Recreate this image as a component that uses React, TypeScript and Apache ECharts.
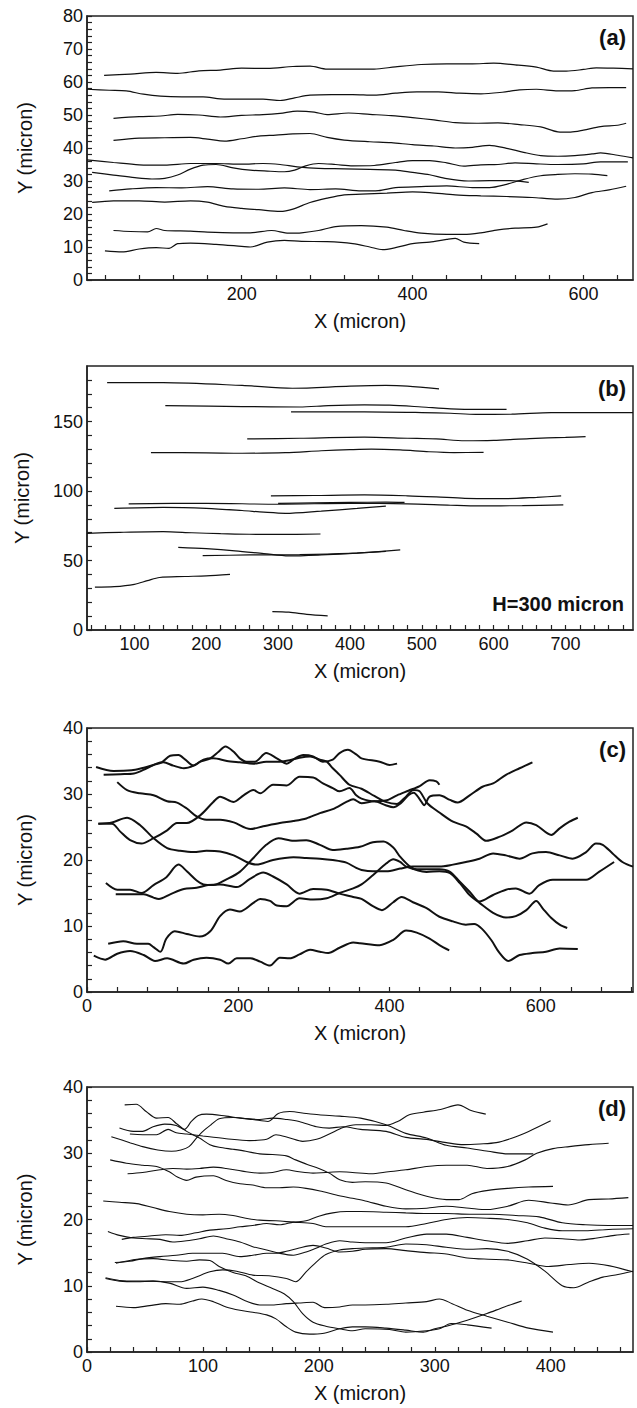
import React, { useEffect, useRef } from 'react';
import * as echarts from 'echarts';

// ---------- Panel (a) ----------
const a1 = [[39,62],[70,62.4],[100,62.9],[125,62.6],[150,63.4],[175,63.6],[200,64.2],[230,64.1],[260,64.7],[280,64.8],[300,63.9],[330,63.9],[355,63.9],[380,64.6],[410,65.3],[440,65.5],[470,65.5],[495,65.7],[520,65.2],[545,64.5],[565,63.3],[580,63.3],[600,63.8],[615,64.3],[635,64.2],[658,64]];
const a2 = [[19,57.8],[45,57.5],[65,57.3],[85,56.3],[105,55.7],[130,55.5],[155,55.5],[175,54.9],[200,54.8],[225,54.8],[245,54.4],[262,55.2],[280,56],[305,56.2],[330,56.2],[355,56],[380,56.6],[405,57],[430,57],[455,56.6],[480,56.4],[505,56.9],[525,57.6],[545,57.8],[570,57.3],[590,57.4],[610,58.2],[630,58.3],[650,58.3]];
const a3 = [[50,49],[80,49.5],[105,49.7],[125,50.2],[150,50],[175,49.4],[200,49.9],[225,50.1],[245,50.5],[265,51.2],[285,50.9],[300,50.1],[325,50.6],[350,50.2],[375,49.8],[400,49.2],[425,48.5],[450,47.7],[475,47.5],[500,47.6],[525,47.1],[550,46.4],[570,44.9],[585,44.8],[600,45.4],[620,46.5],[640,46.9],[650,47.5]];
const a4 = [[50,42.3],[80,43],[110,43.1],[140,43.2],[160,42.7],[180,42.1],[200,42.8],[220,43.6],[240,43.9],[260,44.3],[280,44.4],[300,43.2],[320,42.4],[350,41.9],[375,41.6],[400,41],[425,40.6],[450,40],[470,40.2],[490,40.8],[510,39.9],[530,38.7],[550,37.7],[570,37.5],[590,37.7],[610,38.2],[620,38.5],[640,37.8],[658,37]];
const a5 = [[19,36.4],[50,35.6],[80,34.9],[110,34.8],[140,35.3],[170,35.3],[200,35.1],[225,35.3],[245,35],[265,34.3],[290,33.8],[320,33.7],[350,33.5],[380,33.3],[400,32.6],[420,31.9],[440,30.7],[465,30],[490,30.1],[515,30.1],[536,29.6]];
const a6 = [[25,32.6],[50,31.8],[75,31],[95,30.6],[110,30.8],[125,31.8],[140,33.6],[155,34.8],[170,35],[190,34],[210,33.3],[230,33],[250,32.8],[262,33.3],[275,34.6],[290,35.3],[310,35],[330,34.6],[355,34.7],[380,35.6],[400,36.2],[420,36.2],[440,35.5],[460,34.5],[480,34.9],[500,35],[520,35.5],[545,35.2],[570,35],[600,35.2],[620,35.8],[652,35.8]];
const a7 = [[45,27],[70,27.6],[100,28],[130,27.9],[160,28.3],[190,27.6],[220,27.5],[250,27.9],[280,27.4],[310,27.6],[340,27],[360,27.1],[380,28],[410,28.3],[440,28.5],[470,28],[490,28],[510,29],[530,30.5],[550,31.6],[570,32],[590,32.2],[610,32.1],[628,31.6]];
const a8 = [[25,23.5],[50,24],[80,24],[110,23.6],[140,24],[160,23.6],[180,22.3],[200,21.7],[220,21.3],[245,20.8],[260,21.5],[280,23.5],[300,24.8],[320,25.8],[340,26],[370,26.3],[400,26.7],[420,26.5],[450,25.8],[480,25.5],[510,25.3],[540,25],[570,24.5],[590,25],[610,26.5],[630,27.3],[650,28.4]];
const a9 = [[50,15],[70,14.7],[90,14.6],[100,15.6],[110,15],[140,14.8],[160,14.5],[190,14.3],[210,14.3],[235,15],[255,14.2],[270,14.3],[290,15],[310,16.2],[340,16.5],[370,16],[390,15],[410,14.2],[440,13.8],[460,13.8],[480,14.3],[500,15.2],[520,15.7],[545,16],[558,17]];
const a10 = [[40,8.8],[60,8.5],[80,9.4],[100,9.8],[115,9.6],[125,11],[140,11.2],[170,10.8],[200,10.2],[210,10],[230,11.5],[250,12],[270,11.7],[300,11.6],[330,11],[350,10],[365,9.2],[380,9.8],[400,11],[420,11.5],[440,12.3],[450,12.6],[460,11.5],[478,11]];

// ---------- Panel (b) ----------
const b1 = [[62,178],[140,178],[250,176],[320,174],[400,175.5],[450,176],[480,175.5],[524,173.5]];
const b2 = [[143,161.5],[250,160.8],[330,160.5],[370,161.5],[420,162],[455,161.8],[500,160.5],[540,159.2],[580,158.8],[618,158.8]];
const b3 = [[318,157],[420,157],[500,156.5],[540,156],[575,155.2],[625,155.3],[680,156.5],[794,156.5]];
const b4 = [[257,137.5],[330,138],[420,138.8],[480,138],[520,137.5],[560,136.2],[600,136.5],[650,137.8],[700,138.6],[728,139.2]];
const b5 = [[123,127.7],[200,127.5],[250,127.2],[310,127.6],[360,129],[400,129.8],[430,130.2],[470,129.6],[510,128.3],[545,127.7],[586,127.8]];
const b6 = [[290,96.5],[350,96.8],[420,97.2],[480,96.6],[520,95.8],[560,94.8],[620,94.6],[660,95.5],[694,96.5]];
const b7 = [[92,90.8],[200,91.2],[300,90.5],[400,91.2],[480,90.8],[540,89.8],[580,89.3],[640,89.5],[697,90]];
const b8 = [[72,87.6],[140,88.3],[200,87.6],[250,86],[280,84.8],[310,84],[360,85.6],[410,87.5],[450,89.2]];
const b9 = [[300,91.2],[350,91.5],[400,91.8],[450,92],[476,91.8]];
const b10 = [[34,69.6],[80,70.3],[140,70.8],[180,70],[220,69.3],[260,68.9],[300,68.8],[359,69.1]];
const b11 = [[161,59.5],[200,58.5],[240,57],[280,55],[315,53.3],[360,54],[410,55.3],[440,56.4],[470,57.6]];
const b12 = [[195,53.5],[260,54],[330,54.3],[400,55.2],[450,56.6]];
const b13 = [[45,30.8],[72,31.2],[100,32.9],[118,35.5],[135,37.8],[170,38.5],[200,39],[233,40]];
const b14 = [[292,13.2],[315,12.8],[340,11.3],[369,10.2]];

// ---------- Panel (c) ----------
const c1 = [[12,34.1],[35,33.5],[59,33.6],[72,33.9],[88,34.4],[99,34.8],[110,35.8],[121,35.9],[130,35.2],[141,34.3],[150,34.9],[163,35.4],[174,36.4],[183,37.2],[194,36.4],[202,35.4],[211,34.9],[222,34.9],[237,36.2],[251,35.4],[264,34.6],[275,35.4],[286,35.9],[299,35.7],[312,34.9],[325,35.2],[334,36.2],[345,36.7],[356,36],[363,35.4],[387,34.9],[400,34.4],[410,34.6]];
const c2 = [[22,32.9],[44,33],[62,33.1],[79,33.9],[92,34.6],[101,34.8],[114,34.3],[128,33.9],[141,34.3],[154,35.2],[167,35.4],[185,35],[202,34.8],[220,34.6],[237,34.9],[255,34.9],[268,35.1],[281,35.5],[295,35.7],[308,35.2],[317,34.9],[325,33.9],[334,32.9],[347,31.4],[363,30.8],[380,29.7],[395,28.8],[410,28.5],[420,29.4],[432,30.6],[440,30.4],[450,28.6],[466,27.2],[484,25.8],[501,25.1],[515,24],[528,22.9],[545,23.5],[563,24.5],[581,25.7],[594,25.3],[614,23.8],[625,24.8],[638,25.8],[649,26.4]];
const c3 = [[40,31.8],[53,30.6],[70,30.1],[88,29.8],[106,28.9],[119,28.7],[132,27.8],[145,26.6],[158,26.1],[176,26.1],[194,25.7],[216,24.7],[233,25.1],[255,25.6],[273,25.9],[290,26.3],[308,27.1],[325,27.7],[343,28.8],[352,29.2],[363,28.6],[380,28.9],[395,28.3],[405,28],[415,28.6],[425,29.8],[432,30.2],[440,29.2],[446,28.3],[453,29.6],[466,29.8],[480,29.1],[490,28.7],[506,29.8],[523,31.1],[537,31.6],[554,32.9],[572,33.9],[589,34.8]];
const c4 = [[15,25.5],[33,25.5],[44,24.3],[57,23],[72,22.5],[88,23.3],[106,24.5],[119,25.6],[132,25.6],[150,26.8],[167,28.8],[176,29.6],[194,28.8],[207,29.8],[220,30.6],[229,30.1],[246,31.4],[264,31.3],[281,32.6],[299,32.5],[312,31.6],[325,30.9],[334,30.4],[347,30.9],[356,29.8],[363,29.3],[380,28.9],[395,29],[410,29.8],[425,30.5],[440,31.2],[453,32.1],[462,31.9],[466,31.4]];
const c5 = [[15,25.5],[33,25.7],[53,26.4],[70,25.3],[88,23.3],[106,21.8],[123,21.4],[141,21.2],[158,21.4],[176,21.3],[194,20.7],[211,19.7],[224,19.3],[246,20],[273,20.4],[290,20.3],[308,20.2],[325,20],[343,19.6],[356,18.8],[363,18.5],[378,18.3],[396,18.3],[414,18.7],[431,19],[449,19],[466,19],[484,19.3],[501,19.7],[519,20.2],[537,21],[554,20.7],[572,20.2],[589,21],[607,21.2],[625,20.7],[642,20.2],[660,21.2],[673,22.5],[682,22.3],[695,21],[708,19.7],[722,19]];
const c6 = [[25,16.5],[40,15.5],[57,15.5],[72,15],[88,16.2],[105,17.4],[121,19.3],[132,18.3],[145,16.9],[154,16.3],[167,16.2],[185,17.1],[202,18.2],[220,20.3],[237,22.3],[253,23.3],[273,22.9],[290,23],[308,22.3],[325,21.5],[343,21.7],[361,22],[378,22.7],[392,22.8],[405,21.9],[414,20.5],[427,19],[438,18.4],[449,18.2],[466,18.3],[480,18],[493,16.5],[506,14.7],[519,13.5],[537,12],[554,11.3],[567,11.5],[581,12.4],[594,13.8],[603,12.6],[614,11.2],[625,10.2],[635,9.7]];
const c7 = [[38,14.8],[57,14.8],[75,14.8],[88,14.3],[95,14.1],[110,14.8],[128,15.6],[145,15.8],[160,16.2],[176,16.3],[198,15.9],[215,17.1],[233,18.1],[246,17.5],[264,16.3],[281,14.9],[299,15.6],[317,15.5],[334,14.9],[352,14.4],[363,14.1],[378,13],[390,12.4],[405,13.6],[416,14.4],[431,13.6],[449,12.7],[466,11.4],[484,10.7],[501,10.2],[512,10.3],[522,9.6],[535,7.8],[545,6],[557,4.7],[572,5.6],[589,5.9],[607,6.1],[625,6.6],[649,6.5]];
const c8 = [[28,7.3],[48,7.7],[66,7.3],[81,7.3],[88,6.8],[97,6.1],[105,8.1],[116,9.2],[132,8.8],[149,8.4],[163,9.2],[176,11.5],[189,12.5],[202,12.2],[220,13.5],[229,14.1],[242,13.8],[251,13.1],[264,13],[281,14.2],[299,14],[317,14.2],[334,15],[352,15.7],[363,16.3],[378,17.7],[396,19.5],[405,20.1],[414,19.7],[422,19],[436,18.6],[449,18.6],[466,18.6],[480,18.2],[493,16.7],[506,15.2],[519,13.7],[537,14.7],[554,15.5],[567,15.7],[585,14.9],[598,16.2],[616,17],[642,17],[660,17],[677,18.2],[697,19.7]];
const c9 = [[9,5.5],[24,4.9],[40,5.8],[57,6.2],[75,5.6],[90,4.7],[106,5.1],[128,4.3],[141,4.9],[158,5.2],[176,4.9],[187,4.3],[198,5.1],[216,5.1],[229,4.6],[242,4],[255,5.2],[268,5.1],[281,5.7],[295,6.4],[308,6.1],[319,5.9],[334,6.7],[352,7.5],[361,7.4],[387,7.1],[405,7.9],[422,9.3],[436,9],[453,8.1],[466,7.1],[479,6.3]];

// ---------- Panel (d) ----------
const d1 = [[32.5,37.3],[42.5,37.4],[51,36.3],[60,35.3],[70,35.4],[77,34.5],[86,33.3],[97,32.3],[106,31.3],[114,30.9],[126,30.6],[137,30.3],[149,29.9],[160,29.8],[172,29.6],[180,29],[190,28.3],[200,27.7],[209,27],[218,26],[229,25.6],[240,25.7],[258,25.5],[275,24.5],[293,23.5],[310,23],[321,23],[332,23.9],[346,24.4],[363,24.7],[381,24.9],[402,25]];
const d2 = [[21,32.5],[37,31.6],[48,31],[61,30.5],[73,30.3],[81,30.5],[88,31],[94,32.2],[100,33.3],[107,34.3],[114,35.2],[126,35.4],[143,35.1],[156,34.8],[165,36],[175,36.3],[189,36],[200,35.8],[218,35.6],[236,35.3],[258,34.3],[275,33],[293,32.3],[310,31.2],[328,30.8],[346,30.3],[363,29.9],[385,29.9]];
const d3 = [[28,33.8],[40,33.3],[48,33.3],[57,34],[67,34.4],[77,34.2],[84,33.6],[90,34.8],[96,35.7],[103,35.9],[120,35.6],[132,35.3],[149,35.1],[160,35.3],[172,35.1],[183,34.8],[198,34],[209,33.8],[221,34],[236,33.6],[258,33.3],[275,32.4],[293,32.1],[310,31.6],[325,31.3],[339,31.4],[353,31.6],[367,32.3],[381,33.3],[400,34.9]];
const d4 = [[37,32.9],[48,32.8],[60,32.8],[70,33.6],[77,33.1],[86,32.9],[100,32.6],[120,32.2],[140,31.9],[155,32.1],[163,32.8],[175,32.3],[186,31.8],[198,32.1],[209,32.9],[221,33.9],[232,34.3],[245,34.3],[258,34.2],[268,34.8],[278,35.8],[290,36.2],[305,36.6],[320,37.3],[332,36.4],[344,35.9]];
const d5 = [[20,29],[34,28.5],[48,28.2],[60,28],[71,27.2],[78,26.4],[86,25.9],[94,26.4],[109,26.6],[120,25.9],[132,25.4],[143,25.2],[155,24.8],[166,24.8],[178,24.9],[189,24.7],[201,24.3],[215,23.7],[229,23.2],[240,22.8],[258,22],[275,21.6],[293,21.7],[310,22],[330,21.7],[345,21.5],[363,22],[381,22.9],[400,22.5],[415,22.2],[433,23],[450,23.1],[467,23.3]];
const d6 = [[35,26.9],[48,27.1],[63,27.5],[74,27.7],[86,27.6],[97,27.7],[109,27.9],[120,27.7],[134,27.3],[149,27],[160,27.1],[172,27.5],[183,27.2],[195,27],[206,27.1],[218,27.2],[229,27.1],[245,26.9],[260,27.2],[275,27.5],[293,28],[310,28.2],[328,28.2],[345,27.7],[363,28],[378,29],[388,30],[402,30.7],[416,31],[433,31.3],[450,31.5]];
const d7 = [[14,22.8],[28,22.6],[43,22.4],[57,21.8],[71,21.2],[86,20.8],[100,20.7],[114,20.8],[126,20.6],[137,20.2],[149,19.9],[163,19.8],[178,19.6],[195,19.4],[206,18.9],[218,18.9],[236,18.9],[258,18.9],[275,18.9],[293,19.4],[310,20],[328,20.3],[345,20.2],[363,20],[380,19.5],[395,18.7],[410,18.3],[430,18.3],[450,18.5],[471,18.6]];
const d8 = [[30,17],[40,17.3],[54,17.5],[68,17.7],[80,17.6],[94,18],[106,18.4],[120,18.6],[132,18.9],[143,19.1],[155,19.4],[166,19.2],[178,19.6],[189,19.8],[200,20.5],[212,21],[224,21.2],[236,21.2],[258,21.1],[275,21],[293,20.9],[310,20.9],[330,20.8],[350,20.8],[370,20.6],[390,20.4],[410,19.5],[430,19.2],[450,19.1],[471,19.1]];
const d9 = [[18,18.2],[28,17.6],[40,17.2],[51,17.1],[63,17],[74,16.6],[86,16.8],[97,17.1],[109,17.5],[120,17.1],[132,16.6],[143,15.9],[155,15.4],[166,14.9],[178,14.6],[189,15.1],[198,15.7],[206,16.3],[218,16.8],[229,16.6],[240,16.5],[258,16.5],[275,17.2],[293,17.8],[310,17.8],[328,17.3],[345,16.8],[363,16.4],[380,16.8],[395,17.2],[410,17.1],[425,16.9],[440,17.2],[455,17.6],[468,17.8]];
const d10 = [[24,13.5],[37,13.7],[48,14.1],[63,14.4],[77,14.6],[91,14.9],[106,14.9],[117,14.9],[132,14.4],[143,14.6],[155,14.9],[163,14.9],[172,15.2],[183,15.7],[195,16.1],[206,15.7],[218,15.1],[229,15.2],[240,15.5],[258,15.6],[275,15.3],[293,15],[310,14.8],[328,14.2],[346,14],[363,13.9],[381,13.4],[398,12.9],[416,13.2],[433,13.4],[451,13],[471,12.1]];
const d11 = [[16,11.1],[28,10.7],[43,10.6],[57,10.7],[71,10.4],[86,9.6],[100,9.8],[114,9.3],[126,8.6],[137,7.7],[149,7.1],[160,7.1],[172,7.3],[183,7.4],[195,7.5],[205,6.7],[218,6.8],[229,7.1],[240,7.1],[258,7.2],[275,7.4],[293,7.6],[304,8],[315,7.3],[328,6.3],[345,5.4],[363,4.5],[381,3.6],[402,3]];
const d12 = [[16,11.2],[28,10.8],[43,10.7],[57,10.7],[70,10.6],[80,10.6],[91,11.1],[106,12.1],[117,12.4],[129,12.2],[143,11.6],[157,11.5],[172,11.1],[180,10.6],[189,12.1],[198,13.6],[206,14.7],[218,15.4],[229,15.6],[240,15.7],[258,15.8],[275,16.3],[293,16.2],[310,15.8],[330,15.5],[345,15.6],[363,15.2],[380,14],[395,12.2],[410,10],[420,9.7],[432,10.5],[445,11.3],[458,11.7],[471,12.2]];
const d13 = [[25,13.4],[43,14],[57,14.1],[74,13.8],[86,13.7],[97,13.9],[106,13.8],[114,12.9],[126,12],[137,11.5],[149,10.4],[160,9.6],[170,8.8],[178,7.6],[186,5.8],[195,4.5],[206,3.9],[218,3.5],[229,3.2],[240,3.5],[261,3.4],[275,3],[293,3.2],[304,3.5],[314,4.3],[328,4.1],[349,3.6]];
const d14 = [[25,6.9],[40,6.7],[54,7],[68,7.3],[80,7.2],[91,7.7],[99,8],[109,7.6],[120,6.8],[132,6.3],[143,6],[155,5.6],[163,5],[172,3.8],[180,3],[192,2.7],[203,2.8],[218,3.5],[229,3.8],[240,3.8],[258,3.6],[275,3.3],[290,3],[300,3.5],[310,3.9],[328,4.8],[345,5.8],[360,6.8],[375,7.7]];

// ---------- Axes: tick values and labels ----------
const aXTicks = [40,80,120,160,200,240,280,320,360,400,440,480,520,560,600,640];
const aXLabels = [200,400,600];
const aYLabels = [0,10,20,30,40,50,60,70,80];
const bXLabels = [100,200,300,400,500,600,700];
const bYLabels = [0,50,100,150];
const cXLabels = [0,200,400,600];
const cYLabels = [0,10,20,30,40];
const dXLabels = [0,100,200,300,400];
const dYLabels = [0,10,20,30,40];

const steps = (from: number, to: number, step: number) => {
  const out: number[] = [];
  for (let i = 0; from + i * step <= to + 1e-9; i++) out.push(+(from + i * step).toFixed(6));
  return out;
};

const FONT = '"Liberation Sans", Arial, Helvetica, sans-serif';
const AXC = '#222';

function xAxisOf(gi: number, min: number, max: number, ticks: number[], labels: number[]) {
  return {
    type: 'value', gridIndex: gi, min, max,
    axisLine: { show: true, lineStyle: { color: AXC, width: 1.5 } },
    axisTick: { show: true, inside: true, length: 5, customValues: ticks, lineStyle: { color: AXC, width: 1.2 } },
    axisLabel: { customValues: labels, fontSize: 18, color: '#111', margin: 5, fontFamily: FONT },
    splitLine: { show: false },
    name: 'X (micron)', nameLocation: 'middle', nameGap: 31,
    nameTextStyle: { fontSize: 20, color: '#111', fontFamily: FONT },
  };
}
function yAxisOf(gi: number, min: number, max: number, ticks: number[], labels: number[], gap: number) {
  return {
    type: 'value', gridIndex: gi, min, max,
    axisLine: { show: true, lineStyle: { color: AXC, width: 1.5 } },
    axisTick: { show: true, inside: true, length: 5, customValues: ticks, lineStyle: { color: AXC, width: 1.2 } },
    axisLabel: { customValues: labels, fontSize: 18, color: '#111', margin: 4, fontFamily: FONT },
    splitLine: { show: false },
    name: 'Y (micron)', nameLocation: 'middle', nameGap: gap,
    nameTextStyle: { fontSize: 20, color: '#111', fontFamily: FONT },
  };
}

const panels = [
  { lines: [a1,a2,a3,a4,a5,a6,a7,a8,a9,a10], width: 1.2 },
  { lines: [b1,b2,b3,b4,b5,b6,b7,b8,b9,b10,b11,b12,b13,b14], width: 1.2 },
  { lines: [c1,c2,c3,c4,c5,c6,c7,c8,c9], width: 2 },
  { lines: [d1,d2,d3,d4,d5,d6,d7,d8,d9,d10,d11,d12,d13,d14], width: 1.1 },
];

export default function App() {
  const ref = useRef<HTMLDivElement>(null);
  useEffect(() => {
    if (!ref.current) return;
    const chart = echarts.init(ref.current, undefined, { renderer: 'svg' });
    const series: any[] = [];
    panels.forEach((p, gi) => {
      p.lines.forEach((d) => {
        series.push({
          type: 'line', xAxisIndex: gi, yAxisIndex: gi, data: d,
          showSymbol: false, smooth: 0.3, silent: true,
          lineStyle: { color: '#111', width: p.width },
        });
      });
    });
    const gridBase = { left: 87, width: 546, show: true, borderColor: AXC, borderWidth: 1.5, backgroundColor: 'transparent' };
    const labelStyle = (txt: string, x: number, y: number, size: number) => ({
      type: 'text', x, y,
      style: { text: txt, fill: '#111', font: `bold ${size}px ${FONT}`, align: 'right', verticalAlign: 'middle' },
    });
    chart.setOption({
      animation: false,
      backgroundColor: '#fff',
      grid: [
        { ...gridBase, top: 16, height: 264 },
        { ...gridBase, top: 366, height: 264 },
        { ...gridBase, top: 728, height: 264 },
        { ...gridBase, top: 1087, height: 265 },
      ],
      xAxis: [
        xAxisOf(0, 19, 658, aXTicks, aXLabels),
        xAxisOf(1, 34, 794, steps(40, 780, 20), bXLabels),
        xAxisOf(2, 0, 722, steps(0, 720, 40), cXLabels),
        xAxisOf(3, 0, 471, steps(0, 460, 20), dXLabels),
      ],
      yAxis: [
        yAxisOf(0, 0, 80, steps(0, 80, 2), aYLabels, 52),
        yAxisOf(1, 0, 190, steps(0, 180, 10), bYLabels, 55),
        yAxisOf(2, 0, 40, steps(0, 40, 2), cYLabels, 52),
        yAxisOf(3, 0, 40, steps(0, 40, 2), dYLabels, 52),
      ],
      graphic: [
        labelStyle('(a)', 626, 37, 22),
        labelStyle('(b)', 626, 388, 22),
        labelStyle('(c)', 626, 749, 22),
        labelStyle('(d)', 626, 1108, 22),
        labelStyle('H=300 micron', 624, 604, 20),
      ],
      series,
    });
    return () => chart.dispose();
  }, []);
  return <div ref={ref} style={{ position: 'absolute', left: 0, top: 0, width: 637, height: 1408 }} />;
}
